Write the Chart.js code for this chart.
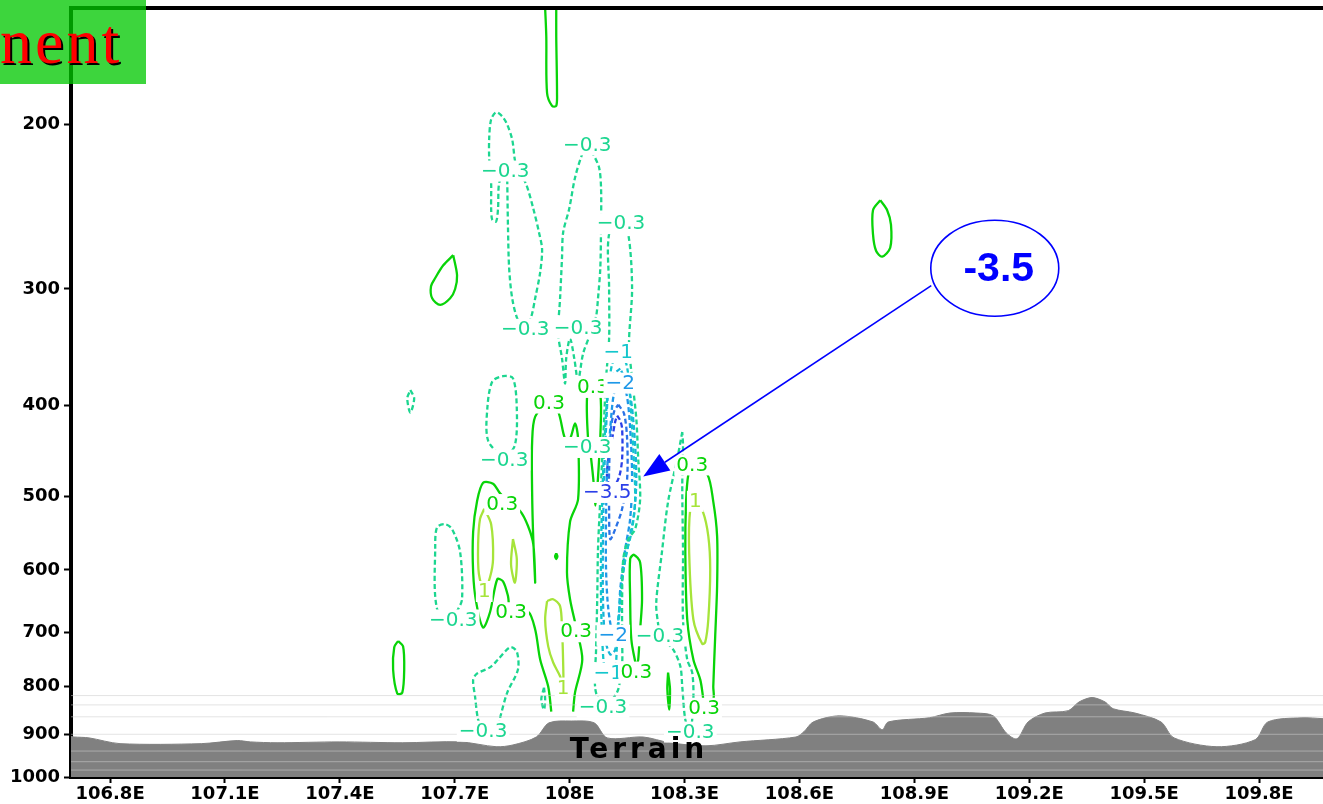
<!DOCTYPE html>
<html>
<head>
<meta charset="utf-8">
<script src="https://cdn.jsdelivr.net/npm/chart.js@4.4.1/dist/chart.umd.min.js"></script>
<style>
  html, body { margin: 0; padding: 0; background: #fff; overflow: hidden; }
  #wrap { width: 1323px; height: 804px; position: relative; }
</style>
</head>
<body>
<div id="wrap"><canvas id="c"></canvas></div>
<script>
// ---- axes -------------------------------------------------------------
const lonMin = 106.698, lonMax = 109.967;
const presTop = 150, presBottom = 1000;
const xTickValues = [106.8, 107.1, 107.4, 107.7, 108.0, 108.3, 108.6, 108.9, 109.2, 109.5, 109.8];
const xTickLabels = ['106.8E', '107.1E', '107.4E', '107.7E', '108E', '108.3E', '108.6E', '108.9E', '109.2E', '109.5E', '109.8E'];
const yTickValues = [200, 300, 400, 500, 600, 700, 800, 900, 1000];
const yTickLabels = ['200', '300', '400', '500', '600', '700', '800', '900', '1000'];

// ---- terrain profile (surface pressure, hPa) ---------------------------
const terrainLon = [106.698,106.706,106.745,106.826,107.038,107.132,107.166,107.236,107.398,107.563,107.714,107.808,107.852,107.913,107.946,108.004,108.064,108.098,108.192,108.262,108.356,108.445,108.591,108.612,108.636,108.704,108.792,108.816,108.832,108.939,108.993,109.061,109.106,109.140,109.168,109.197,109.241,109.302,109.330,109.364,109.398,109.419,109.476,109.544,109.578,109.690,109.790,109.823,109.912,109.967];
const terrainP   = [905,906,908,921,921,914,917,919,917,919,917,928,924,906,875,871,875,908,906,919,926,917,906,894,873,860,873,890,873,864,854,854,860,897,910,873,854,849,831,822,831,845,854,873,908,928,912,873,864,866];

// model levels drawn as thin guide lines
const modelLevels = [818, 837, 862, 900, 938, 963, 983];

// ---- contour paths [lon, hPa] -------------------------------------------
// -0.3
const neg03TopLeft = [[107.837,229],[107.839,258],[107.842,285],[107.850,307],[107.865,324],[107.886,331],[107.900,321],[107.910,307],[107.923,288],[107.928,272],[107.920,261],[107.905,246],[107.886,231.5],[107.860,221],[107.850,207.5],[107.837,200],[107.824,196],[107.808,194],[107.795,197.5],[107.790,206.5],[107.790,218],[107.795,231],[107.795,246],[107.798,253],[107.808,254],[107.813,246],[107.816,231],[107.832,223.6],[107.837,229]];
const neg03TopMid = [[108.046,210],[108.061,215],[108.077,222.5],[108.082,234],[108.082,255],[108.080,285],[108.074,307],[108.069,321],[108.054,335],[108.035,352],[108.022,376],[108.012,356],[108.001,339],[107.991,356],[107.988,379],[107.980,356],[107.970,335],[107.975,307],[107.980,278],[107.983,261],[107.999,246],[108.014,228],[108.033,215],[108.046,210]];
const neg03Core = [[108.134,255],[108.103,262],[108.103,299.5],[108.103,339],[108.095,374],[108.090,413],[108.085,456],[108.080,504],[108.074,570],[108.072,645],[108.069,730],[108.067,805],[108.087,841],[108.111,826],[108.127,805],[108.137,756],[108.137,712],[108.137,645],[108.140,584],[108.153,556],[108.171,542.5],[108.184,504],[108.179,456],[108.174,413],[108.163,374],[108.155,343],[108.163,299.5],[108.153,262],[108.134,255]];
const neg03Right = [[108.294,427],[108.281,456],[108.257,507],[108.241,574],[108.226,651],[108.231,686],[108.236,705],[108.270,730],[108.289,761],[108.294,800],[108.302,868],[108.315,894],[108.323,826],[108.320,773],[108.307,748.5],[108.296,678],[108.296,574],[108.294,487],[108.296,441],[108.294,427]];
const neg03MidLeft = [[107.829,457],[107.787,436],[107.785,403],[107.798,377],[107.826,372],[107.852,374],[107.862,403],[107.857,441],[107.829,457]];
const neg03LowLeft = [[107.696,678],[107.654,661],[107.649,565],[107.654,540],[107.675,536],[107.693,542.5],[107.714,574],[107.719,645],[107.706,664.5],[107.696,678]];
const neg03Bottom = [[107.774,892],[107.761,868],[107.753,820],[107.748,786.5],[107.758,775],[107.792,763],[107.813,748.5],[107.845,726],[107.862,734],[107.865,767],[107.837,812],[107.819,862],[107.813,883],[107.774,892]];
const neg03SmallA = [[107.584,385],[107.594,393],[107.584,407],[107.576,393],[107.584,385]];
const neg03SmallB = [[107.933,802],[107.936,826],[107.933,847],[107.926,826],[107.933,802]];
// -1 .. -3.5 core
const neg1Core = [[108.127,350.5],[108.111,361],[108.098,393],[108.090,445],[108.085,504],[108.082,570],[108.082,645],[108.085,712],[108.093,771],[108.108,775],[108.119,767],[108.124,712],[108.132,645],[108.145,584],[108.163,542.5],[108.171,504],[108.166,445],[108.158,393],[108.148,361],[108.127,350.5]];
const neg15Core = [[108.132,365],[108.106,374],[108.095,423.5],[108.090,479.5],[108.087,556],[108.087,645],[108.093,712],[108.106,739],[108.119,730],[108.127,678],[108.137,614],[108.153,563],[108.168,523],[108.174,479.5],[108.168,423.5],[108.155,384],[108.132,365]];
const neg2Core = [[108.132,378],[108.116,388],[108.106,423.5],[108.098,468],[108.095,529],[108.095,599],[108.101,661],[108.114,704],[108.127,686],[108.132,630],[108.145,570],[108.158,529],[108.163,479.5],[108.158,423.5],[108.148,388],[108.132,378]];
const neg3Core = [[108.127,399],[108.142,408],[108.150,434],[108.150,479.5],[108.137,516],[108.119,542.5],[108.106,556],[108.103,516],[108.103,468],[108.108,423.5],[108.116,406],[108.127,399]];
const neg35Core = [[108.124,410],[108.132,415],[108.137,423.5],[108.137,456],[108.129,477],[108.111,491],[108.098,479.5],[108.101,456],[108.111,434],[108.119,416],[108.124,410]];
// +0.3
const pos03Top = [[107.936,150],[107.939,161],[107.941,185],[107.954,191],[107.965,191],[107.967,185],[107.965,161],[107.965,150]];
const pos03UpperLeft = [[107.696,276],[107.706,290],[107.701,300],[107.688,307],[107.662,312],[107.641,307],[107.638,298],[107.649,292],[107.670,283],[107.696,276]];
const pos03UpperRight = [[108.811,241],[108.829,247],[108.839,256],[108.837,271],[108.816,277],[108.800,273],[108.792,262],[108.792,247],[108.811,241]];
const pos03LowLeft = [[107.552,715],[107.565,724.5],[107.568,767],[107.563,812],[107.550,814],[107.539,767],[107.542,726],[107.552,715]];
const pos03Main = [[107.952,851],[107.944,800],[107.923,748.5],[107.910,695],[107.891,664.5],[107.847,666],[107.839,640],[107.826,617],[107.811,614],[107.792,666],[107.774,691.5],[107.756,650],[107.748,603.5],[107.748,546],[107.758,507],[107.774,484],[107.800,485],[107.819,497],[107.871,519],[107.891,538],[107.905,563],[107.910,619],[107.905,556],[107.902,495],[107.902,438],[107.910,411],[107.946,397],[107.970,406],[107.988,434],[108.001,434],[108.014,418],[108.022,434],[108.022,504],[108.001,533],[107.993,603.5],[108.001,645],[108.017,691.5],[108.033,748.5],[108.014,812],[108.009,851]];
const pos03Thin = [[108.061,382],[108.046,389],[108.048,434],[108.056,456],[108.064,491],[108.067,512],[108.072,491],[108.077,456],[108.080,434],[108.080,389],[108.061,382]];
const pos03CoreEast = [[108.174,763],[108.161,712],[108.158,645],[108.158,584],[108.168,578],[108.184,589],[108.189,645],[108.184,695],[108.179,748.5],[108.174,763]];
const pos03East = [[108.320,462.5],[108.310,473.5],[108.304,507],[108.302,574],[108.307,678],[108.323,748.5],[108.341,786.5],[108.348,820],[108.351,843],[108.375,826],[108.375,800],[108.380,707],[108.385,624],[108.385,552],[108.375,507],[108.359,473.5],[108.320,462.5]];
const pos03EastSmall = [[108.257,773],[108.262,805],[108.260,847],[108.255,805],[108.257,773]];
const pos03Dot = [[107.965,576],[107.968,580],[107.965,584],[107.962,580],[107.965,576]];
// +1
const pos1Left = [[107.777,516],[107.795,536],[107.800,584],[107.792,611],[107.777,632],[107.763,606],[107.761,563],[107.766,529],[107.777,516]];
const pos1Mid = [[107.852,556],[107.862,584],[107.857,619],[107.847,592],[107.852,556]];
const pos1Low = [[107.941,648],[107.957,645],[107.975,656],[107.980,695],[107.983,754],[107.983,802],[107.975,780],[107.957,754],[107.944,724.5],[107.936,678],[107.941,648]];
const pos1East = [[108.328,506],[108.315,516],[108.312,574],[108.323,678],[108.346,720],[108.354,717],[108.362,678],[108.367,599],[108.362,552],[108.348,520],[108.328,506]];

const contourSet = [
  ['-0.3', neg03TopLeft], ['-0.3', neg03TopMid], ['-0.3', neg03Core], ['-0.3', neg03Right],
  ['-0.3', neg03MidLeft], ['-0.3', neg03LowLeft], ['-0.3', neg03Bottom], ['-0.3', neg03SmallA], ['-0.3', neg03SmallB],
  ['-1', neg1Core], ['-1.5', neg15Core], ['-2', neg2Core], ['-3', neg3Core], ['-3.5', neg35Core],
  ['0.3', pos03Top], ['0.3', pos03UpperLeft], ['0.3', pos03UpperRight], ['0.3', pos03LowLeft], ['0.3', pos03Main],
  ['0.3', pos03Thin], ['0.3', pos03CoreEast], ['0.3', pos03East], ['0.3', pos03EastSmall], ['0.3', pos03Dot],
  ['1', pos1Left], ['1', pos1Mid], ['1', pos1Low], ['1', pos1East]
];

// ---- contour labels [text, lon, hPa, level] ----------------------------
const contourLabels = [
  ['−0.3',108.046,210,'-0.3'], ['−0.3',107.832,224,'-0.3'], ['−0.3',108.134,255,'-0.3'],
  ['−0.3',107.884,331,'-0.3'], ['−0.3',108.022,330,'-0.3'], ['−1',108.127,350.5,'-1'],
  ['0.3',108.061,382,'0.3'], ['−2',108.132,378,'-2'], ['0.3',107.946,397,'0.3'],
  ['−0.3',108.046,443,'-0.3'], ['−0.3',107.829,457,'-0.3'], ['−3.5',108.098,495,'-3.5'],
  ['0.3',108.320,462.5,'0.3'], ['0.3',107.824,510,'0.3'], ['1',108.328,506,'1'],
  ['1',107.777,632,'1'], ['−0.3',107.696,678,'-0.3'], ['0.3',107.847,666,'0.3'],
  ['0.3',108.017,698,'0.3'], ['−2',108.114,704,'-2'], ['−0.3',108.236,705,'-0.3'],
  ['−1',108.101,773,'-1'], ['0.3',108.174,771,'0.3'], ['1',107.983,802,'1'],
  ['−0.3',108.087,841,'-0.3'], ['0.3',108.351,843,'0.3'], ['−0.3',107.774,892,'-0.3'],
  ['−0.3',108.315,894,'-0.3']
];

// callout for the minimum
const calloutText = '-3.5';
const calloutAt = [109.110, 285];
const arrowTip = [108.192, 476.6];
const terrainText = 'Terrain';
const terrainTextAt = [108.176, 935];
const titleFragment = 'nent';

// ---- styles -------------------------------------------------------------
const levelStyle = {
  '-3.5': { color: '#2b3fe8', dash: [5, 3] },
  '-3':   { color: '#2a72e6', dash: [5, 3] },
  '-2':   { color: '#1e98e8', dash: [5, 3] },
  '-1.5': { color: '#17b4d8', dash: [5, 3] },
  '-1':   { color: '#13c6cc', dash: [5, 3] },
  '-0.3': { color: '#1cd690', dash: [5, 3] },
  '0.3':  { color: '#08d408', dash: [] },
  '1':    { color: '#a6e43a', dash: [] }
};

const toXY = pts => pts.map(([x, y]) => ({ x, y }));

const datasets = [];
contourSet.forEach(([lev, pts], i) => {
  datasets.push({
    label: 'w ' + lev + ' #' + i,
    data: toXY(pts),
    showLine: true,
    borderColor: levelStyle[lev].color,
    borderDash: levelStyle[lev].dash,
    borderWidth: 2.3,
    pointRadius: 0,
    tension: 0.3,
    fill: false,
    order: 3
  });
});
datasets.push({
  label: 'terrain',
  data: terrainLon.map((x, i) => ({ x, y: terrainP[i] })),
  showLine: true,
  borderColor: '#808080',
  backgroundColor: '#808080',
  borderWidth: 1,
  pointRadius: 0,
  tension: 0.3,
  fill: { value: presBottom },
  order: 2
});
modelLevels.forEach(lev => {
  datasets.push({
    label: 'level ' + lev,
    data: [{ x: lonMin, y: lev }, { x: lonMax, y: lev }],
    showLine: true,
    borderColor: 'rgba(206,206,206,0.55)',
    borderWidth: 1,
    pointRadius: 0,
    fill: false,
    order: 1
  });
});

const overlay = {
  id: 'overlay',
  afterDatasetsDraw(chart) {
    const { ctx, scales: { x, y } } = chart;
    ctx.save();
    // contour labels with white boxes
    ctx.font = '20px "DejaVu Sans"';
    ctx.textAlign = 'center';
    ctx.textBaseline = 'middle';
    contourLabels.forEach(([t, lon, p, lev]) => {
      const px = x.getPixelForValue(lon), py = y.getPixelForValue(p);
      const w = ctx.measureText(t).width;
      ctx.fillStyle = '#fff';
      ctx.fillRect(px - w / 2 - 2, py - 10, w + 4, 21);
      ctx.fillStyle = levelStyle[lev].color;
      ctx.fillText(t, px, py + 1);
    });
    // terrain caption
    ctx.font = 'bold 28px "DejaVu Sans"';
    ctx.letterSpacing = '4px';
    ctx.fillStyle = '#000';
    ctx.fillText(terrainText, x.getPixelForValue(terrainTextAt[0]) + 2, y.getPixelForValue(terrainTextAt[1]) + 1);
    ctx.restore();
  },
  afterDraw(chart) {
    const { ctx, chartArea, scales: { x, y } } = chart;
    ctx.save();
    // top frame
    ctx.strokeStyle = '#000';
    ctx.lineWidth = 4;
    ctx.beginPath();
    ctx.moveTo(chartArea.left - 2, chartArea.top);
    ctx.lineTo(chartArea.right, chartArea.top);
    ctx.stroke();

    // callout ellipse + arrow
    const cx = x.getPixelForValue(calloutAt[0]), cy = y.getPixelForValue(calloutAt[1]);
    const tx = x.getPixelForValue(arrowTip[0]), ty = y.getPixelForValue(arrowTip[1]);
    ctx.strokeStyle = '#0000ff';
    ctx.fillStyle = '#0000ff';
    ctx.lineWidth = 1.6;
    ctx.beginPath();
    ctx.ellipse(cx, cy, 64, 48, 0, 0, Math.PI * 2);
    ctx.stroke();
    const sx = cx - 63.5, sy = cy + 17.5;
    const len = Math.hypot(tx - sx, ty - sy);
    const ux = (tx - sx) / len, uy = (ty - sy) / len;
    const headL = 26, headW = 10;
    const bx = tx - ux * headL, by = ty - uy * headL;
    ctx.beginPath();
    ctx.moveTo(sx, sy);
    ctx.lineTo(bx, by);
    ctx.stroke();
    ctx.beginPath();
    ctx.moveTo(tx, ty);
    ctx.lineTo(bx - uy * headW, by + ux * headW);
    ctx.lineTo(bx + uy * headW, by - ux * headW);
    ctx.closePath();
    ctx.fill();
    ctx.font = 'bold 41px "Liberation Sans"';
    ctx.textAlign = 'center';
    ctx.textBaseline = 'middle';
    ctx.fillText(calloutText, cx + 4, cy + 2);

    // title fragment box
    ctx.fillStyle = 'rgba(0,200,0,0.76)';
    ctx.fillRect(0, 0, 146, 84);
    ctx.font = '64px "Liberation Serif"';
    ctx.letterSpacing = '3px';
    ctx.textAlign = 'left';
    ctx.textBaseline = 'alphabetic';
    ctx.fillStyle = '#000';
    ctx.fillText(titleFragment, 2, 65);
    ctx.fillStyle = '#ff0000';
    ctx.fillText(titleFragment, 0, 63);
    ctx.restore();
  }
};

const tickFont = { family: 'DejaVu Sans', weight: 'bold', size: 18 };

new Chart(document.getElementById('c'), {
  type: 'scatter',
  data: { datasets },
  options: {
    responsive: true,
    maintainAspectRatio: false,
    animation: false,
    devicePixelRatio: 1,
    layout: { padding: { top: 8, left: 0, right: 0, bottom: 0 } },
    plugins: { legend: { display: false }, tooltip: { enabled: false } },
    elements: { point: { radius: 0 } },
    scales: {
      x: {
        type: 'linear', min: lonMin, max: lonMax,
        afterBuildTicks(s) { s.ticks = xTickValues.map(v => ({ value: v })); },
        afterFit(s) { s.height = 27; s.paddingLeft = 0; s.paddingRight = 0; },
        ticks: { autoSkip: false, maxRotation: 0, color: '#000', font: tickFont, padding: 1,
                 callback: (v, i) => xTickLabels[i] },
        grid: { drawOnChartArea: false, drawTicks: true, tickLength: 6, tickColor: '#000', tickWidth: 2 },
        border: { display: true, color: '#000', width: 4 }
      },
      y: {
        type: 'logarithmic', reverse: true, min: presTop, max: presBottom,
        afterBuildTicks(s) { s.ticks = yTickValues.map(v => ({ value: v })); },
        afterFit(s) { s.width = 71; s.paddingTop = 0; s.paddingBottom = 0; },
        ticks: { autoSkip: false, color: '#000', font: tickFont, padding: 4,
                 callback: (v, i) => yTickLabels[i] },
        grid: { drawOnChartArea: false, drawTicks: true, tickLength: 7, tickColor: '#000', tickWidth: 2 },
        border: { display: true, color: '#000', width: 4 }
      }
    }
  },
  plugins: [overlay]
});
</script>
</body>
</html>
